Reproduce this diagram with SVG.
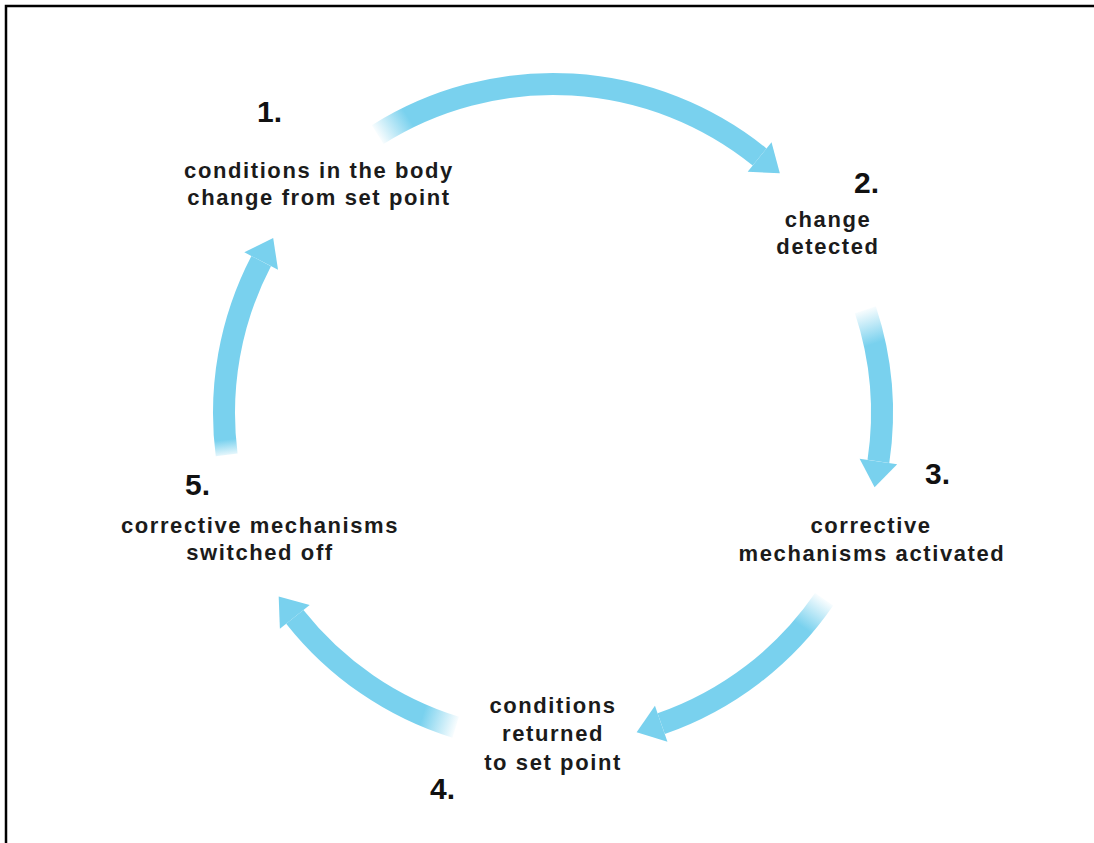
<svg xmlns="http://www.w3.org/2000/svg" width="1094" height="843" viewBox="0 0 1094 843">
  <style>
    .num { font-family: "Liberation Sans", Arial, sans-serif; font-weight: bold; font-size: 30px; fill: #111; }
    .lbl { font-family: "Liberation Sans", Arial, sans-serif; font-weight: bold; font-size: 22px; letter-spacing: 1.6px; fill: #1b1b1b; text-anchor: middle; }
    .shaft { fill: none; stroke-width: 22; stroke-linecap: butt; }
    .head { fill: #79d1ee; }
  </style>
  <defs>
    <linearGradient id="g1" gradientUnits="userSpaceOnUse" x1="377.68" y1="134.60" x2="407.30" y2="115.95">
      <stop offset="0" stop-color="#79d1ee" stop-opacity="0.05"/>
      <stop offset="1" stop-color="#79d1ee" stop-opacity="1"/>
    </linearGradient>
    <linearGradient id="g2" gradientUnits="userSpaceOnUse" x1="865.36" y1="309.70" x2="876.35" y2="342.93">
      <stop offset="0" stop-color="#79d1ee" stop-opacity="0.05"/>
      <stop offset="1" stop-color="#79d1ee" stop-opacity="1"/>
    </linearGradient>
    <linearGradient id="g3" gradientUnits="userSpaceOnUse" x1="824.14" y1="599.35" x2="804.32" y2="628.19">
      <stop offset="0" stop-color="#79d1ee" stop-opacity="0.05"/>
      <stop offset="1" stop-color="#79d1ee" stop-opacity="1"/>
    </linearGradient>
    <linearGradient id="g4" gradientUnits="userSpaceOnUse" x1="455.71" y1="727.29" x2="422.28" y2="716.94">
      <stop offset="0" stop-color="#79d1ee" stop-opacity="0.05"/>
      <stop offset="1" stop-color="#79d1ee" stop-opacity="1"/>
    </linearGradient>
    <linearGradient id="g5" gradientUnits="userSpaceOnUse" x1="226.67" y1="454.80" x2="224.76" y2="439.92">
      <stop offset="0" stop-color="#79d1ee" stop-opacity="0.2"/>
      <stop offset="1" stop-color="#79d1ee" stop-opacity="1"/>
    </linearGradient>
  </defs>

  <rect x="0" y="0" width="1094" height="843" fill="#ffffff"/>
  <path d="M6,843 V6 H1094" fill="none" stroke="#000" stroke-width="2.5"/>

  <g id="connectors">
    <g id="arrow-1-2">
      <path class="shaft" stroke="url(#g1)" d="M377.68,134.60 A329,329 0 0 1 759.60,156.96"/>
      <polygon class="head" points="771.53,142.17 779.83,173.29 747.67,171.75"/>
    </g>
    <g id="arrow-2-3">
      <path class="shaft" stroke="url(#g2)" d="M865.36,309.70 A329,329 0 0 1 878.41,461.46"/>
      <polygon class="head" points="897.20,464.26 874.58,487.18 859.62,458.66"/>
    </g>
    <g id="arrow-3-4">
      <path class="shaft" stroke="url(#g3)" d="M824.14,599.35 A329,329 0 0 1 661.20,723.70"/>
      <polygon class="head" points="667.45,741.64 636.65,732.25 654.95,705.76"/>
    </g>
    <g id="arrow-4-5">
      <path class="shaft" stroke="url(#g4)" d="M455.71,727.29 A329,329 0 0 1 294.80,616.89"/>
      <polygon class="head" points="279.89,628.67 278.69,596.48 309.71,605.11"/>
    </g>
    <g id="arrow-5-1">
      <path class="shaft" stroke="url(#g5)" d="M226.67,454.80 A329,329 0 0 1 261.17,261.08"/>
      <polygon class="head" points="244.32,252.31 273.18,238.02 278.02,269.85"/>
    </g>
  </g>

  <g id="node1">
    <text class="num" x="257" y="122">1.</text>
    <text class="lbl" x="319" y="178">conditions in the body</text>
    <text class="lbl" x="319" y="205">change from set point</text>
  </g>
  <g id="node2">
    <text class="num" x="854" y="193">2.</text>
    <text class="lbl" x="828" y="227">change</text>
    <text class="lbl" x="828" y="254">detected</text>
  </g>
  <g id="node3">
    <text class="num" x="925" y="484">3.</text>
    <text class="lbl" x="871" y="533">corrective</text>
    <text class="lbl" x="872" y="561">mechanisms activated</text>
  </g>
  <g id="node4">
    <text class="lbl" x="553" y="713">conditions</text>
    <text class="lbl" x="553" y="741">returned</text>
    <text class="lbl" x="553" y="770">to set point</text>
    <text class="num" x="430" y="799">4.</text>
  </g>
  <g id="node5">
    <text class="num" x="185" y="495">5.</text>
    <text class="lbl" x="260" y="533">corrective mechanisms</text>
    <text class="lbl" x="260" y="560">switched off</text>
  </g>
</svg>
